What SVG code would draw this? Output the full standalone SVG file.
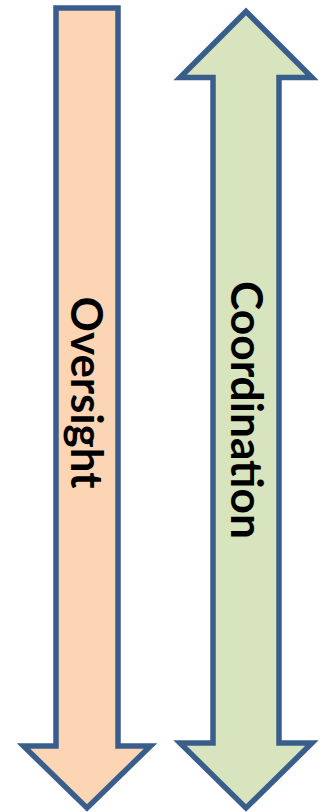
<svg xmlns="http://www.w3.org/2000/svg" width="324" height="812" viewBox="0 0 324 812">
  <style>
    .arrow { stroke: #3A5E8C; stroke-width: 5.5; stroke-linejoin: miter; stroke-miterlimit: 10; }
    .lbl { font-family: Lato, "Liberation Sans", sans-serif; font-weight: bold; font-size: 44px; fill: #000; text-anchor: middle; }
  </style>
  <rect width="324" height="812" fill="#FFFFFF"/>
  <g id="oversight">
    <path class="arrow" fill="#FCD5B5" d="M56,8 H118 V746 H150.5 L87,808 L23.5,746 H56 Z"/>
    <text class="lbl" transform="translate(71,392.5) rotate(90)" x="0" y="0" textLength="192" lengthAdjust="spacingAndGlyphs">Oversight</text>
  </g>
  <g id="coordination">
    <path class="arrow" fill="#D7E4BD" d="M246,11.5 L312,77.5 H279 V743 H312 L246,808 L180,743 H213 V77.5 H180 Z"/>
    <text class="lbl" transform="translate(231,410) rotate(90)" x="0" y="0" textLength="258" lengthAdjust="spacingAndGlyphs">Coordination</text>
  </g>
</svg>
